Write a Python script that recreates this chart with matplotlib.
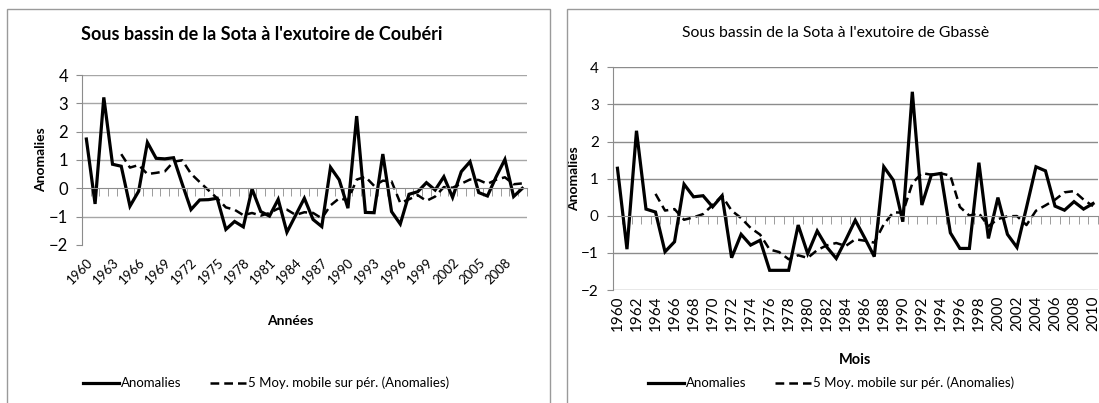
import numpy as np
import pandas as pd
import matplotlib
matplotlib.use('Agg')
import matplotlib.pyplot as plt
from matplotlib.patches import Rectangle

plt.rcParams['font.family'] = ['Lato', 'DejaVu Sans']

years = list(range(1960, 2011))

# anomalies, 1960..2010
coubéri = [1.74, -0.55, 3.21, 0.85, 0.78, -0.63, -0.1, 1.62, 1.06, 1.04,
           1.08, 0.15, -0.75, -0.41, -0.4, -0.35, -1.45, -1.17, -1.36, -0.02,
           -0.82, -0.98, -0.39, -1.55, -0.95, -0.35, -1.1, -1.35, 0.74, 0.3,
           -0.7, 2.55, -0.85, -0.86, 1.21, -0.82, -1.26, -0.21, -0.12, 0.2,
           -0.06, 0.41, -0.32, 0.59, 0.94, -0.15, -0.27, 0.41, 1.02, -0.29,
           0.0]
gbasse = [1.28, -0.9, 2.29, 0.18, 0.1, -0.97, -0.7, 0.85, 0.51, 0.54,
          0.24, 0.54, -1.13, -0.5, -0.79, -0.66, -1.47, -1.47, -1.47, -0.25,
          -1.02, -0.41, -0.84, -1.15, -0.65, -0.12, -0.6, -1.1, 1.32, 0.96,
          -0.16, 3.34, 0.29, 1.1, 1.14, -0.46, -0.88, -0.88, 1.43, -0.61,
          0.49, -0.5, -0.85, 0.22, 1.32, 1.21, 0.26, 0.15, 0.38, 0.18,
          0.33]

titles = ["Sous bassin de la Sota à l'exutoire de Coubéri",
          "Sous bassin de la Sota à l'exutoire de Gbassè"]
xlabels = ['Années', 'Mois']
leg_labels = ['Anomalies', '5 Moy. mobile sur pér. (Anomalies)']

W, H = 1099, 403
fig = plt.figure(figsize=(W / 100, H / 100), dpi=100)

# chart frames
for x0, x1 in [(7, 550), (567, 1110)]:
    fig.patches.append(Rectangle((x0 / W, -0.1), (x1 - x0) / W, 1.1 - 9 / H,
                                 transform=fig.transFigure, fill=False,
                                 edgecolor='#9a9a9a', lw=1.0))


def draw(ax, vals, step, rot, grid_col, tick_fs, ylab_fs, bottom_grid):
    x = np.arange(len(vals))
    ma = pd.Series(vals).rolling(5).mean()
    l1, = ax.plot(x, vals, color='black', lw=2.3, solid_joinstyle='miter')
    l2, = ax.plot(x, ma, color='black', lw=1.8, ls=(0, (3.5, 2)))
    ax.set_xlim(-0.5, len(vals) - 0.5)
    ax.set_ylim(-2, 4)
    ax.set_yticks(range(-2, 5))
    ax.tick_params(axis='y', labelsize=ylab_fs, length=4, color='#8c8c8c',
                   pad=6)
    for y in [-1, 1, 2, 3, 4] + ([-2] if bottom_grid else []):
        ax.axhline(y, color=grid_col, lw=1.0, zorder=0)
    for s in ['top', 'right']:
        ax.spines[s].set_visible(False)
    ax.spines['left'].set_color('#8c8c8c')
    ax.spines['bottom'].set_position(('data', 0))
    ax.spines['bottom'].set_color('#8c8c8c')
    ax.set_xticks([])
    ax.set_xticks(np.arange(-0.5, len(vals)), minor=True)
    ax.tick_params(axis='x', which='minor', length=6, color='#8c8c8c',
                   direction='out')
    sec = ax.secondary_xaxis('bottom')
    sec.spines['bottom'].set_visible(False)
    sec.set_xticks(x[::step])
    if rot == 45:
        sec.set_xticklabels([str(years[i]) for i in x[::step]], rotation=45,
                            ha='right', rotation_mode='anchor',
                            fontsize=tick_fs)
        sec.tick_params(length=0, pad=8)
    else:
        sec.set_xticklabels([str(years[i]) for i in x[::step]], rotation=90,
                            fontsize=tick_fs)
        sec.tick_params(length=0, pad=4)
    return sec, l1, l2


ax1 = fig.add_axes([82 / W, 1 - 245 / H, 444.7 / W, 170 / H])
sec1, a1, b1 = draw(ax1, coubéri, 3, 45, '#a6a6a6', 9.5, 12, False)
ax1.set_ylabel('Anomalies', fontsize=10, fontweight='bold', labelpad=1)
fig.text(290 / W, 1 - 321 / H, xlabels[0], fontsize=10, fontweight='bold',
         ha='center', va='center')
fig.text(262 / W, 1 - 34 / H, titles[0], fontsize=13, fontweight='bold',
         ha='center', va='center')
fig.legend([a1, b1], leg_labels, loc='center', ncol=2, frameon=False,
           bbox_to_anchor=(266 / W, 1 - 383 / H), fontsize=9.5,
           handlelength=2.7, handletextpad=0.15, columnspacing=2.2)

ax2 = fig.add_axes([612.7 / W, 1 - 290 / H, 485.1 / W, 222.7 / H])
sec2, a2, b2 = draw(ax2, gbasse, 2, 90, '#8c8c8c', 11, 11, True)
ax2.set_ylabel('Anomalies', fontsize=10, fontweight='bold', labelpad=1)
fig.text(855 / W, 1 - 360 / H, xlabels[1], fontsize=10.5, fontweight='bold',
         ha='center', va='center')
fig.text(836 / W, 1 - 33 / H, titles[1], fontsize=11.3, ha='center',
         va='center')
fig.legend([a2, b2], leg_labels, loc='center', ncol=2, frameon=False,
           bbox_to_anchor=(831 / W, 1 - 383 / H), fontsize=9.5,
           handlelength=2.7, handletextpad=0.15, columnspacing=2.2)

fig.savefig('out.png', dpi=100)
